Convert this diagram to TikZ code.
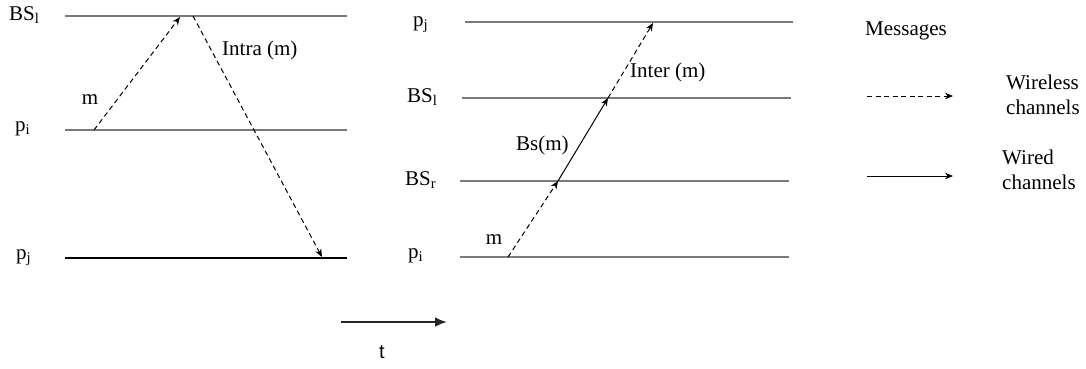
\documentclass[tikz,border=0pt]{standalone}
\usepackage{fontspec}
\setmainfont{Liberation Serif}
\newfontfamily\tfont{Liberation Sans}
\usetikzlibrary{arrows.meta, positioning, calc}
\definecolor{linegray}{HTML}{7A7A7A}
\tikzset{
  procline/.style={draw=linegray,line width=2.2pt},
  lbl/.style={font=\fontsize{21}{25}\selectfont,inner sep=0pt,align=left},
  wless/.style={-{Stealth[length=8pt,width=6.5pt,inset=2.5pt]},dashed,
    dash pattern=on 5pt off 3.5pt,line width=1pt},
  wired/.style={-{Stealth[length=8pt,width=6.5pt,inset=2.5pt]},line width=1pt},
  timearrow/.style={-{Latex[length=12pt,width=10pt]},line width=2.6pt,draw=black!85},
}

\begin{document}
\begin{tikzpicture}[x=1pt,y=-1pt]
    \useasboundingbox (0,0) rectangle (1086,368);
    % left panel: intra-cell
    \coordinate (lbs-w) at (65,16);   \coordinate (lbs-e) at (347,16);
    \coordinate (lpi-w) at (65,130);  \coordinate (lpi-e) at (347,130);
    \coordinate (lpj-w) at (65,258);  \coordinate (lpj-e) at (347,258);
    \draw[procline] (lbs-w) -- (lbs-e);
    \draw[procline] (lpi-w) -- (lpi-e);
    \draw[line width=1.4pt] (lpj-w) -- (lpj-e);
    \node[lbl,anchor=west] (lbslab) at (9,15) {BS\textsubscript{l}};
    \node[lbl,anchor=west] (lpilab) at (15,129) {p\textsubscript{i}};
    \node[lbl,anchor=west] (lpjlab) at (16,258) {p\textsubscript{j}};
    \coordinate (lsend) at (94,130);  \coordinate (lrecv) at (180,17);
    \coordinate (lfwd) at (193,16);   \coordinate (ldel) at (322,257);
    \draw[wless] (lsend) -- (lrecv);
    \draw[wless] (lfwd) -- (ldel);
    \node[lbl] (lm) at (90,100) {m};
    \node[lbl,anchor=west] (intra) at (222,50) {Intra (m)};
    % middle panel: inter-cell
    \coordinate (mpj-w) at (465,22);   \coordinate (mpj-e) at (793,22);
    \coordinate (mbl-w) at (462,98);   \coordinate (mbl-e) at (791,98);
    \coordinate (mbr-w) at (460,181);  \coordinate (mbr-e) at (789,181);
    \coordinate (mpi-w) at (460,257);  \coordinate (mpi-e) at (789,257);
    \foreach \ln in {mpj,mbl,mbr,mpi}
      \draw[procline] (\ln-w) -- (\ln-e);
    \node[lbl,anchor=west] (mpjlab) at (413,25) {p\textsubscript{j}};
    \node[lbl,anchor=west] (mbllab) at (407,97) {BS\textsubscript{l}};
    \node[lbl,anchor=west] (mbrlab) at (405,180) {BS\textsubscript{r}};
    \node[lbl,anchor=west] (mpilab) at (408,256) {p\textsubscript{i}};
    \coordinate (msend) at (508,257);
    \coordinate (mbsr) at (558,181);
    \coordinate (mbsl) at (608,98);
    \coordinate (mdel) at (653,23);
    \draw[wless] (msend) -- (mbsr);
    \draw[wired] (mbsr) -- (mbsl);
    \draw[wless] (mbsl) -- (mdel);
    \node[lbl] (mm) at (494,240) {m};
    \node[lbl,anchor=west] (bsm) at (516,145) {Bs(m)};
    \node[lbl,anchor=west] (inter) at (630,72) {Inter (m)};
    % legend
    \node[lbl,anchor=west] (msgs) at (865,31) {Messages};
    \coordinate (wl-a) at (867,96);  \coordinate (wl-b) at (953,96);
    \coordinate (wd-a) at (867,176); \coordinate (wd-b) at (953,176);
    \draw[wless] (wl-a) -- (wl-b);
    \draw[wired] (wd-a) -- (wd-b);
    \node[lbl,anchor=west] (wlab) at (1006,95) {Wireless\\channels};
    \node[lbl,anchor=west] (wdlab) at (1002,170) {Wired\\channels};
    % time axis
    \coordinate (t-a) at (341,322); \coordinate (t-b) at (447,322);
    \draw[timearrow] (t-a) -- (t-b);
    \node[font=\tfont\fontsize{20}{22}\selectfont,inner sep=0pt] (tlab) at (382,352) {t};
\end{tikzpicture}
\end{document}
